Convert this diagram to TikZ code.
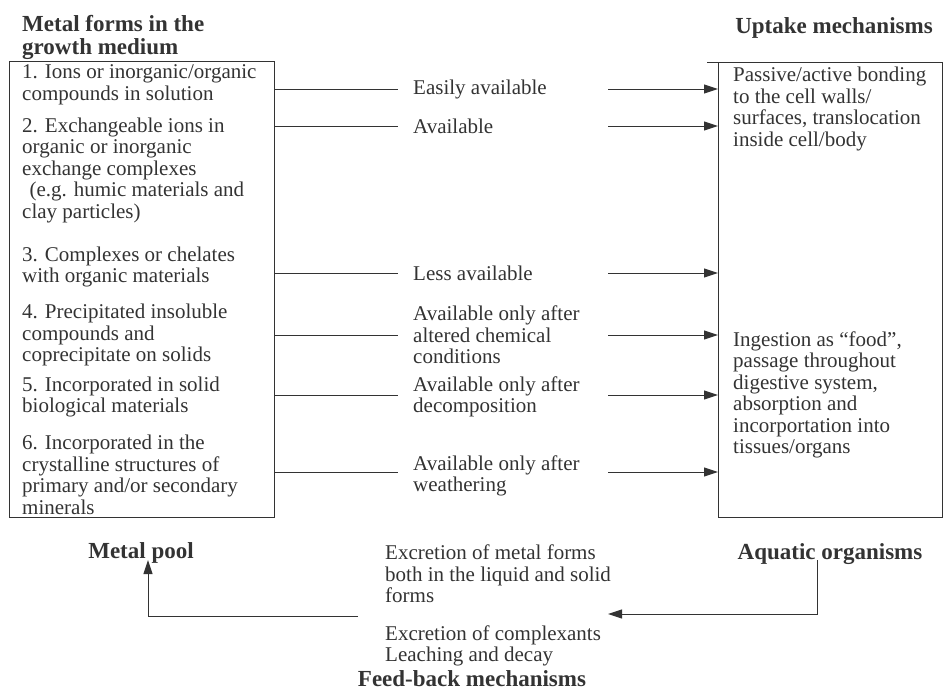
\documentclass[tikz,border=0pt]{standalone}
\usepackage{fontspec}
\setmainfont{Liberation Serif}
\usetikzlibrary{arrows.meta}
\definecolor{ink}{HTML}{333333}
\tikzset{
  body/.style={font=\fontsize{21}{21.5}\selectfont, text=ink, align=left, inner sep=0pt},
  head/.style={font=\bfseries\fontsize{23}{23}\selectfont, text=ink, align=left, inner sep=0pt},
  panel/.style={draw=ink, line width=1.1pt, anchor=north west, inner sep=0pt},
  avail/.style={body, anchor=west, inner xsep=15pt},
  link/.style={draw=ink, line width=1pt},
  flow/.style={link, -{Triangle[length=14pt, width=9pt]}},
}
\begin{document}
\begin{tikzpicture}[x=1pt, y=-1pt]
  \useasboundingbox (0,0) rectangle (944,691);
  % headers
  \node[head, anchor=west] (hmetal) at (22,37.5) {Metal forms in the\\growth medium};
  \node[head, anchor=base] (hup) at (834,33) {Uptake mechanisms};
  % the two boxes
  \node[panel, minimum width=265pt, minimum height=456pt] (metal) at (9,61) {};
  \node[panel, minimum width=224pt, minimum height=455pt] (up) at (718,62) {};
  \draw[link] (up.north west) -- ++(-11,0);
  % metal forms
  \begin{scope}[every node/.style={body, anchor=west}]
    \node (f1) at (22,85) {1. Ions or inorganic/organic\\compounds in solution};
    \node (f2) at (22,170) {2. Exchangeable ions in\\organic or inorganic\\exchange complexes\\\hspace{0.35em}(e.g. humic materials and\\clay particles)};
    \node (f3) at (22,267) {3. Complexes or chelates\\with organic materials};
    \node (f4) at (22,335) {4. Precipitated insoluble\\compounds and\\coprecipitate on solids};
    \node (f5) at (22,397) {5. Incorporated in solid\\biological materials};
    \node (f6) at (22,475) {6. Incorporated in the\\crystalline structures of\\primary and/or secondary\\minerals};
  \end{scope}
  % uptake
  \node[body, anchor=west] (b1) at (733,109) {Passive/active bonding\\to the cell walls/\\surfaces, translocation\\inside cell/body};
  \node[body, anchor=west] (b2) at (733,395) {Ingestion as ``food'',\\passage throughout\\digestive system,\\absorption and\\incorportation into\\tissues/organs};
  % availability
  \node[avail] (a1) at (398,89) {Easily available};
  \node[avail] (a2) at (398,126) {Available};
  \node[avail] (a3) at (398,273) {Less available};
  \node[avail] (a4) at (398,335) {Available only after\\altered chemical\\conditions};
  \node[avail] (a5) at (398,397) {Available only after\\decomposition};
  \node[avail] (a6) at (398,476) {Available only after\\weathering};
  \draw[link] (a1.west -| metal.east) -- (a1.west);
  \draw[link] (a2.west -| metal.east) -- (a2.west);
  \draw[link] (a3.west -| metal.east) -- (a3.west);
  \draw[link] (a4.west -| metal.east) -- (a4.west);
  \draw[link] ([yshift=2pt]a5.west -| metal.east) -- ([yshift=2pt]a5.west);
  \draw[link] ([yshift=4pt]a6.west -| metal.east) -- ([yshift=4pt]a6.west);
  \draw[flow] ([xshift=210pt]a1.west) -- (a1.west -| up.west);
  \draw[flow] ([xshift=210pt]a2.west) -- (a2.west -| up.west);
  \draw[flow] ([xshift=210pt]a3.west) -- (a3.west -| up.west);
  \draw[flow] ([xshift=210pt]a4.west) -- (a4.west -| up.west);
  \draw[flow] ([xshift=210pt,yshift=2pt]a5.west) -- ([yshift=2pt]a5.west -| up.west);
  \draw[flow] ([xshift=210pt,yshift=4pt]a6.west) -- ([yshift=4pt]a6.west -| up.west);
  % feed-back
  \node[head, anchor=base] (pool) at (141,558) {Metal pool};
  \node[head, anchor=base] (aqua) at (830,559) {Aquatic organisms};
  \node[body, anchor=west] (e1) at (385,574) {Excretion of metal forms\\both in the liquid and solid\\forms};
  \node[body, anchor=west] (e2) at (385,646) {Excretion of complexants\\Leaching and decay};
  \node[head, anchor=base] (hfeed) at (472,686) {Feed-back mechanisms};
  \coordinate (fl) at (358,616);
  \coordinate (fr) at (608,614);
  \draw[flow] (fl) -| ([xshift=7pt,yshift=-2pt]pool.base);
  \draw[flow] ([xshift=-13pt,yshift=-1pt]aqua.base) |- (fr);
\end{tikzpicture}
\end{document}
